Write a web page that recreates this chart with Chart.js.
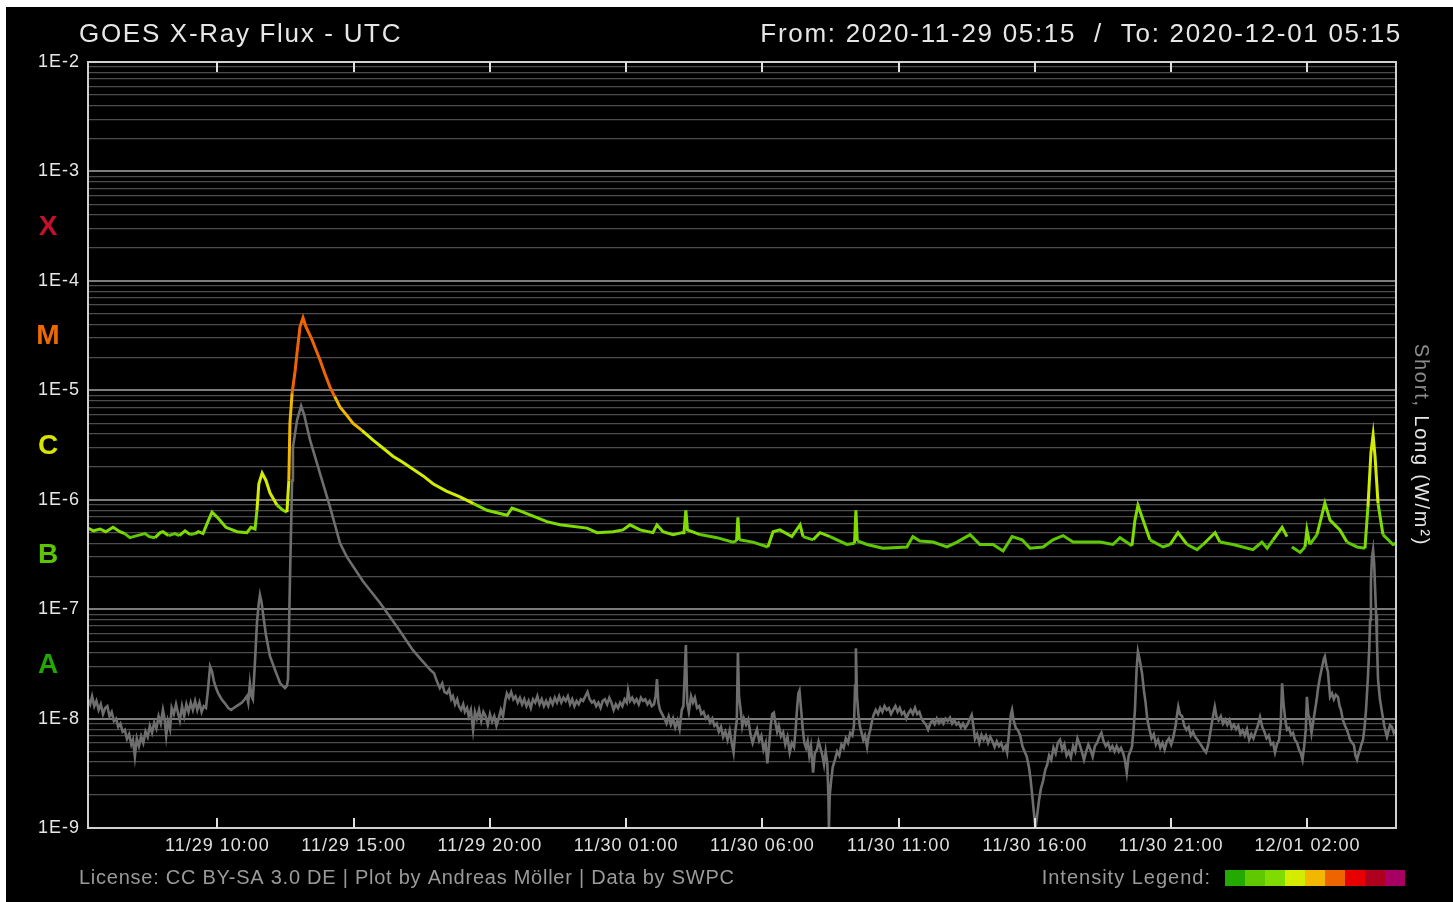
<!DOCTYPE html>
<html>
<head>
<meta charset="utf-8">
<title>GOES X-Ray Flux</title>
<script src="https://cdn.jsdelivr.net/npm/chart.js@4.4.1/dist/chart.umd.min.js"></script>
<style>
  html, body { margin: 0; padding: 0; background: #fff; }
  #wrap { position: absolute; left: 6px; top: 7px; width: 1447px; height: 895px; background: #000; }
  canvas { display: block; }
</style>
</head>
<body>
<div id="wrap"><canvas id="xray" width="1447" height="895"></canvas></div>
<script>
// readings: [hours since 2020-11-29 00:00 UTC, flux in W/m²]
const longReadings = [
  [5.25, 5.5e-7], [5.45, 5.2e-7], [5.69, 5.4e-7], [5.90, 5.1e-7], [6.17, 5.6e-7], [6.42, 5.1e-7], [6.60, 4.9e-7],
  [6.79, 4.5e-7], [7.05, 4.7e-7], [7.34, 4.9e-7], [7.50, 4.6e-7], [7.71, 4.5e-7], [7.90, 5.0e-7], [8.00, 5.1e-7],
  [8.20, 4.7e-7], [8.44, 4.9e-7], [8.60, 4.7e-7], [8.81, 5.2e-7], [9.00, 4.8e-7], [9.18, 4.9e-7], [9.30, 5.1e-7],
  [9.47, 4.9e-7], [9.65, 6.3e-7], [9.80, 7.7e-7],
  [10.02, 6.8e-7], [10.31, 5.6e-7], [10.72, 5.1e-7], [11.08, 5.0e-7], [11.23, 5.6e-7], [11.38, 5.4e-7], [11.45, 8.0e-7],
  [11.52, 1.4e-6], [11.64, 1.75e-6], [11.78, 1.5e-6], [11.93, 1.15e-6], [12.19, 8.9e-7], [12.41, 8.0e-7], [12.55, 7.7e-7],
  [12.62, 1.5e-6], [12.66, 5.0e-6], [12.74, 9.4e-6], [12.85, 1.5e-5], [12.92, 2.2e-5], [13.03, 3.8e-5], [13.14, 4.6e-5],
  [13.25, 3.8e-5], [13.47, 2.9e-5], [13.60, 2.4e-5], [13.76, 1.9e-5], [13.95, 1.4e-5], [14.13, 1.07e-5], [14.30, 8.8e-6],
  [14.50, 7.0e-6], [14.75, 5.9e-6], [14.97, 5.0e-6], [15.30, 4.3e-6], [15.71, 3.5e-6], [16.05, 3.0e-6], [16.44, 2.5e-6],
  [16.80, 2.2e-6], [17.18, 1.9e-6], [17.55, 1.65e-6], [17.91, 1.4e-6], [18.40, 1.2e-6], [18.90, 1.06e-6], [19.40, 9.2e-7],
  [19.89, 8.0e-7], [20.63, 7.2e-7], [20.81, 8.4e-7],
  [21.10, 7.9e-7], [22.09, 6.3e-7], [22.57, 5.9e-7], [23.56, 5.5e-7], [23.93, 5.0e-7], [24.52, 5.1e-7], [24.88, 5.3e-7],
  [25.14, 5.9e-7], [25.51, 5.3e-7], [25.98, 5.0e-7], [26.13, 5.9e-7], [26.35, 5.1e-7], [26.72, 4.8e-7], [27.05, 5.0e-7],
  [27.12, 5.0e-7], [27.19, 8.0e-7], [27.25, 5.3e-7], [27.71, 4.8e-7], [28.33, 4.5e-7], [28.92, 4.1e-7], [29.05, 4.2e-7],
  [29.10, 6.9e-7], [29.15, 4.3e-7], [29.65, 4.1e-7], [30.20, 3.7e-7], [30.39, 5.1e-7], [30.64, 5.3e-7], [31.08, 4.6e-7],
  [31.38, 5.9e-7], [31.49, 4.6e-7], [31.86, 4.3e-7], [32.11, 5.0e-7], [32.48, 4.6e-7], [33.10, 3.9e-7], [33.38, 4.0e-7],
  [33.43, 8.0e-7], [33.48, 4.2e-7], [33.84, 3.9e-7], [34.42, 3.6e-7], [35.30, 3.7e-7], [35.52, 4.6e-7], [35.78, 4.2e-7],
  [36.26, 4.1e-7], [36.77, 3.7e-7], [37.14, 4.1e-7], [37.62, 4.8e-7], [37.98, 3.9e-7], [38.46, 3.9e-7], [38.83, 3.4e-7],
  [39.16, 4.6e-7], [39.53, 4.3e-7], [39.82, 3.6e-7], [40.30, 3.7e-7], [40.66, 4.3e-7], [41.03, 4.7e-7], [41.40, 4.1e-7],
  [41.91, 4.1e-7], [42.39, 4.1e-7], [42.86, 3.9e-7], [43.12, 4.5e-7], [43.56, 3.8e-7], [43.67, 6.5e-7], [43.78, 8.9e-7],
  [43.97, 6.5e-7], [44.22, 4.3e-7], [44.70, 3.7e-7], [44.96, 3.9e-7], [45.25, 5.0e-7], [45.58, 3.9e-7], [45.95, 3.5e-7],
  [46.17, 3.9e-7], [46.61, 5.0e-7], [46.79, 4.1e-7], [47.27, 3.9e-7], [48.00, 3.5e-7], [48.33, 4.1e-7], [48.52, 3.6e-7],
  [48.74, 4.3e-7], [49.07, 5.6e-7], [49.25, 4.6e-7], [49.34, null], [49.43, 3.7e-7], [49.73, 3.3e-7], [49.91, 3.7e-7],
  [49.98, 5.3e-7], [50.09, 3.9e-7], [50.35, 4.8e-7], [50.64, 9.3e-7], [50.83, 6.5e-7], [51.19, 5.3e-7], [51.45, 4.1e-7],
  [51.82, 3.7e-7], [52.11, 3.6e-7], [52.22, 8.6e-7], [52.33, 2.7e-6], [52.41, 3.9e-6], [52.48, 2.5e-6], [52.59, 9.3e-7],
  [52.77, 4.8e-7], [53.14, 3.9e-7], [53.25, 4.0e-7]
];

const shortReadings = [
  [5.25, 1.5e-8], [5.33, 1.35e-8], [5.40, 1.6e-8], [5.48, 1.3e-8], [5.56, 1.45e-8], [5.64, 1.2e-8], [5.72, 1.35e-8],
  [5.80, 1.1e-8], [5.88, 1.25e-8], [5.96, 1.3e-8], [6.04, 1.05e-8], [6.12, 1.15e-8], [6.20, 9.5e-9], [6.28, 1.0e-8],
  [6.36, 8.4e-9], [6.44, 9.0e-9], [6.52, 7.6e-9], [6.60, 7.9e-9], [6.68, 6.5e-9], [6.76, 7.2e-9], [6.84, 5.8e-9],
  [6.90, 6.4e-9], [6.97, 4.5e-9], [7.04, 6.6e-9], [7.12, 5.6e-9], [7.20, 6.9e-9], [7.28, 6.0e-9], [7.36, 7.6e-9],
  [7.44, 6.8e-9], [7.52, 8.6e-9], [7.60, 7.4e-9], [7.68, 9.2e-9], [7.76, 8.1e-9], [7.84, 1.05e-8], [7.92, 9.0e-9],
  [8.00, 1.2e-8], [8.06, 1.0e-8], [8.12, 7.0e-9], [8.18, 9.5e-9], [8.26, 8.0e-9], [8.32, 1.25e-8], [8.40, 1.1e-8],
  [8.48, 1.35e-8], [8.56, 1.1e-8], [8.62, 9.6e-9], [8.70, 1.3e-8], [8.78, 1.05e-8], [8.86, 1.35e-8], [8.94, 1.15e-8],
  [9.02, 1.4e-8], [9.10, 1.2e-8], [9.18, 1.45e-8], [9.26, 1.2e-8], [9.34, 1.4e-8], [9.42, 1.15e-8], [9.50, 1.3e-8],
  [9.58, 1.25e-8], [9.65, 1.8e-8], [9.73, 3.0e-8], [9.80, 2.7e-8], [9.87, 2.2e-8], [9.95, 1.9e-8], [10.03, 1.7e-8],
  [10.12, 1.55e-8], [10.20, 1.45e-8], [10.30, 1.35e-8], [10.40, 1.25e-8], [10.50, 1.2e-8], [10.60, 1.25e-8],
  [10.70, 1.3e-8], [10.80, 1.35e-8], [10.90, 1.4e-8], [11.00, 1.5e-8], [11.08, 1.6e-8], [11.13, 1.4e-8], [11.19, 2.1e-8],
  [11.25, 1.6e-8], [11.30, 1.5e-8], [11.38, 3.4e-8], [11.45, 7.5e-8], [11.52, 1.15e-7], [11.56, 1.35e-7], [11.62, 1.15e-7],
  [11.67, 9.2e-8], [11.78, 5.8e-8], [11.93, 3.7e-8], [12.11, 2.8e-8], [12.30, 2.1e-8], [12.48, 1.9e-8], [12.55, 2.0e-8],
  [12.59, 2.3e-8], [12.66, 1.8e-7], [12.74, 1.5e-6], [12.77, 3.0e-6], [12.92, 5.3e-6], [13.07, 7.2e-6], [13.18, 6.0e-6],
  [13.40, 3.5e-6], [13.76, 1.75e-6], [14.13, 8.6e-7], [14.50, 4.0e-7], [14.75, 3.0e-7], [15.34, 1.8e-7], [15.97, 1.14e-7],
  [16.59, 6.9e-8], [17.18, 4.2e-8], [17.50, 3.4e-8], [17.80, 2.8e-8], [17.95, 2.6e-8], [18.05, 2.2e-8], [18.16, 1.9e-8],
  [18.25, 2.1e-8], [18.33, 1.75e-8], [18.42, 1.7e-8], [18.50, 1.85e-8], [18.58, 1.5e-8], [18.64, 1.6e-8], [18.72, 1.35e-8],
  [18.80, 1.5e-8], [18.86, 1.3e-8], [18.94, 1.2e-8], [19.02, 1.35e-8], [19.08, 1.15e-8], [19.16, 1.25e-8], [19.22, 1.05e-8],
  [19.30, 1.2e-8], [19.38, 7.9e-9], [19.45, 1.15e-8], [19.52, 1.0e-8], [19.60, 1.2e-8], [19.68, 9.5e-9], [19.76, 1.15e-8],
  [19.84, 1.05e-8], [19.92, 8.8e-9], [20.00, 1.1e-8], [20.08, 9.4e-9], [20.16, 1.05e-8], [20.24, 8.6e-9], [20.32, 1.0e-8],
  [20.40, 1.2e-8], [20.48, 1.05e-8], [20.56, 1.45e-8], [20.62, 1.7e-8], [20.70, 1.55e-8], [20.78, 1.75e-8], [20.86, 1.5e-8],
  [20.94, 1.6e-8], [21.02, 1.4e-8], [21.10, 1.55e-8], [21.18, 1.35e-8], [21.26, 1.5e-8], [21.34, 1.3e-8], [21.42, 1.45e-8],
  [21.50, 1.25e-8], [21.58, 1.5e-8], [21.66, 1.4e-8], [21.74, 1.6e-8], [21.82, 1.35e-8], [21.90, 1.5e-8], [21.98, 1.3e-8],
  [22.06, 1.45e-8], [22.14, 1.3e-8], [22.22, 1.5e-8], [22.30, 1.35e-8], [22.38, 1.55e-8], [22.46, 1.4e-8], [22.54, 1.6e-8],
  [22.62, 1.4e-8], [22.70, 1.55e-8], [22.78, 1.45e-8], [22.86, 1.6e-8], [22.94, 1.35e-8], [23.02, 1.5e-8], [23.10, 1.3e-8],
  [23.18, 1.45e-8], [23.26, 1.35e-8], [23.34, 1.5e-8], [23.42, 1.45e-8], [23.50, 1.6e-8], [23.58, 1.75e-8], [23.66, 1.5e-8],
  [23.74, 1.4e-8], [23.82, 1.45e-8], [23.90, 1.3e-8], [23.98, 1.4e-8], [24.06, 1.25e-8], [24.14, 1.45e-8], [24.22, 1.5e-8],
  [24.30, 1.35e-8], [24.38, 1.55e-8], [24.46, 1.4e-8], [24.54, 1.2e-8], [24.62, 1.35e-8], [24.70, 1.25e-8], [24.78, 1.4e-8],
  [24.86, 1.3e-8], [24.94, 1.5e-8], [25.02, 1.4e-8], [25.07, 1.8e-8], [25.14, 1.45e-8], [25.22, 1.55e-8], [25.30, 1.4e-8],
  [25.38, 1.5e-8], [25.46, 1.35e-8], [25.54, 1.55e-8], [25.62, 1.45e-8], [25.70, 1.5e-8], [25.78, 1.35e-8], [25.86, 1.45e-8],
  [25.94, 1.3e-8], [26.02, 1.35e-8], [26.08, 1.6e-8], [26.13, 2.3e-8], [26.18, 1.4e-8], [26.24, 1.2e-8], [26.32, 1.1e-8],
  [26.40, 1.0e-8], [26.48, 9.0e-9], [26.56, 1.05e-8], [26.64, 8.8e-9], [26.72, 1.0e-8], [26.80, 8.3e-9], [26.88, 9.6e-9],
  [26.96, 8.0e-9], [27.04, 1.2e-8], [27.10, 1.3e-8], [27.19, 4.7e-8], [27.24, 1.4e-8], [27.30, 1.15e-8], [27.38, 1.6e-8],
  [27.45, 1.4e-8], [27.52, 1.55e-8], [27.60, 1.25e-8], [27.68, 1.3e-8], [27.76, 1.1e-8], [27.84, 1.15e-8], [27.92, 1.0e-8],
  [28.00, 1.05e-8], [28.08, 9.2e-9], [28.16, 1.0e-8], [28.24, 8.6e-9], [28.32, 9.0e-9], [28.40, 7.6e-9], [28.48, 8.4e-9],
  [28.56, 6.8e-9], [28.64, 7.6e-9], [28.72, 6.4e-9], [28.80, 7.8e-9], [28.88, 5.9e-9], [28.94, 4.9e-9], [29.00, 7.5e-9],
  [29.06, 9.7e-9], [29.10, 4.0e-8], [29.14, 1.6e-8], [29.20, 1.2e-8], [29.26, 8.5e-9], [29.32, 1.0e-8], [29.40, 8.8e-9],
  [29.48, 9.8e-9], [29.56, 7.2e-9], [29.64, 6.0e-9], [29.72, 7.0e-9], [29.80, 8.0e-9], [29.88, 6.3e-9], [29.96, 7.0e-9],
  [30.04, 5.2e-9], [30.12, 6.0e-9], [30.18, 3.9e-9], [30.24, 5.5e-9], [30.30, 8.5e-9], [30.36, 1.1e-8], [30.42, 1.13e-8],
  [30.48, 9.0e-9], [30.54, 7.6e-9], [30.60, 8.6e-9], [30.68, 6.9e-9], [30.76, 7.5e-9], [30.84, 5.8e-9], [30.92, 6.8e-9],
  [31.00, 4.9e-9], [31.08, 6.0e-9], [31.16, 5.5e-9], [31.22, 8.0e-9], [31.28, 1.33e-8], [31.32, 1.7e-8], [31.36, 1.8e-8],
  [31.42, 1.2e-8], [31.48, 8.0e-9], [31.54, 6.0e-9], [31.60, 5.4e-9], [31.66, 6.2e-9], [31.72, 4.6e-9], [31.78, 5.6e-9],
  [31.86, 3.2e-9], [31.92, 4.8e-9], [32.00, 5.2e-9], [32.06, 6.2e-9], [32.12, 5.5e-9], [32.20, 4.6e-9], [32.26, 3.8e-9],
  [32.32, 5.0e-9], [32.38, 3.9e-9], [32.42, 2.0e-9], [32.44, 1.0e-9], [32.47, 2.0e-9], [32.52, 2.7e-9], [32.58, 3.6e-9],
  [32.66, 4.2e-9], [32.74, 5.0e-9], [32.82, 4.6e-9], [32.90, 5.8e-9], [32.98, 5.4e-9], [33.06, 6.6e-9], [33.14, 6.0e-9],
  [33.22, 7.4e-9], [33.30, 7.0e-9], [33.36, 8.7e-9], [33.40, 2.0e-8], [33.43, 4.4e-8], [33.47, 1.6e-8], [33.52, 1.1e-8],
  [33.58, 8.4e-9], [33.64, 7.4e-9], [33.70, 6.4e-9], [33.76, 7.0e-9], [33.84, 5.5e-9], [33.90, 7.0e-9], [33.96, 7.9e-9],
  [34.02, 9.5e-9], [34.08, 1.08e-8], [34.16, 1.2e-8], [34.24, 1.1e-8], [34.32, 1.25e-8], [34.40, 1.15e-8], [34.48, 1.3e-8],
  [34.56, 1.2e-8], [34.64, 1.25e-8], [34.72, 1.1e-8], [34.80, 1.2e-8], [34.88, 1.3e-8], [34.96, 1.15e-8], [35.04, 1.25e-8],
  [35.12, 1.1e-8], [35.20, 1.15e-8], [35.28, 1.0e-8], [35.36, 1.12e-8], [35.44, 1.2e-8], [35.52, 1.1e-8], [35.60, 1.25e-8],
  [35.68, 1.1e-8], [35.76, 1.15e-8], [35.84, 1.0e-8], [35.92, 9.3e-9], [36.00, 8.8e-9], [36.08, 7.9e-9], [36.16, 9.0e-9],
  [36.24, 9.7e-9], [36.32, 8.9e-9], [36.40, 1.0e-8], [36.48, 9.1e-9], [36.56, 9.8e-9], [36.64, 9.0e-9], [36.72, 1.0e-8],
  [36.80, 9.5e-9], [36.88, 1.02e-8], [36.96, 9.0e-9], [37.04, 9.7e-9], [37.12, 8.8e-9], [37.20, 9.2e-9], [37.28, 8.3e-9],
  [37.36, 9.0e-9], [37.44, 8.2e-9], [37.52, 8.8e-9], [37.60, 9.8e-9], [37.68, 1.08e-8], [37.74, 8.6e-9], [37.80, 6.5e-9],
  [37.88, 7.2e-9], [37.96, 6.0e-9], [38.04, 7.1e-9], [38.12, 6.4e-9], [38.20, 7.0e-9], [38.28, 6.0e-9], [38.36, 6.8e-9],
  [38.44, 6.2e-9], [38.52, 5.5e-9], [38.60, 6.2e-9], [38.68, 5.6e-9], [38.76, 6.0e-9], [38.84, 5.2e-9], [38.92, 5.6e-9],
  [38.98, 4.9e-9], [39.06, 8.0e-9], [39.12, 1.1e-8], [39.16, 1.2e-8], [39.22, 9.6e-9], [39.30, 8.2e-9], [39.38, 7.8e-9],
  [39.46, 7.0e-9], [39.54, 5.6e-9], [39.62, 5.0e-9], [39.70, 4.5e-9], [39.78, 3.6e-9], [39.84, 2.8e-9], [39.90, 2.0e-9],
  [39.96, 1.4e-9], [40.02, 1.0e-9], [40.08, 1.3e-9], [40.15, 1.8e-9], [40.22, 2.3e-9], [40.30, 2.7e-9], [40.38, 3.4e-9],
  [40.45, 3.8e-9], [40.52, 4.6e-9], [40.60, 4.2e-9], [40.68, 5.4e-9], [40.76, 4.8e-9], [40.84, 6.0e-9], [40.92, 6.4e-9],
  [41.00, 5.2e-9], [41.08, 5.8e-9], [41.16, 4.6e-9], [41.24, 5.0e-9], [41.32, 4.4e-9], [41.40, 5.6e-9], [41.48, 5.0e-9],
  [41.56, 6.6e-9], [41.64, 5.8e-9], [41.72, 5.0e-9], [41.80, 4.2e-9], [41.88, 5.0e-9], [41.96, 5.8e-9], [42.04, 5.2e-9],
  [42.12, 4.5e-9], [42.20, 5.6e-9], [42.28, 6.0e-9], [42.36, 6.8e-9], [42.44, 7.4e-9], [42.52, 6.2e-9], [42.60, 5.6e-9],
  [42.68, 6.0e-9], [42.76, 5.2e-9], [42.84, 5.6e-9], [42.92, 5.0e-9], [43.00, 5.6e-9], [43.08, 5.0e-9], [43.16, 5.4e-9],
  [43.24, 4.8e-9], [43.30, 4.2e-9], [43.37, 3.2e-9], [43.44, 4.6e-9], [43.50, 5.0e-9], [43.56, 5.5e-9], [43.62, 8.0e-9],
  [43.67, 1.2e-8], [43.73, 2.8e-8], [43.78, 4.1e-8], [43.85, 3.4e-8], [43.93, 2.6e-8], [44.00, 1.8e-8], [44.06, 1.4e-8],
  [44.12, 1.0e-8], [44.20, 8.0e-9], [44.28, 6.6e-9], [44.36, 7.2e-9], [44.44, 5.8e-9], [44.52, 6.4e-9], [44.60, 5.4e-9],
  [44.68, 6.0e-9], [44.76, 5.2e-9], [44.84, 6.2e-9], [44.92, 6.6e-9], [45.00, 5.8e-9], [45.08, 6.8e-9], [45.16, 8.6e-9],
  [45.22, 1.1e-8], [45.26, 1.28e-8], [45.32, 1.1e-8], [45.40, 1.05e-8], [45.48, 8.6e-9], [45.56, 7.9e-9], [45.64, 8.4e-9],
  [45.72, 7.0e-9], [45.80, 7.6e-9], [45.88, 6.8e-9], [45.96, 6.4e-9], [46.04, 6.0e-9], [46.12, 5.6e-9], [46.20, 5.2e-9],
  [46.28, 4.9e-9], [46.36, 5.8e-9], [46.44, 7.6e-9], [46.52, 1.0e-8], [46.60, 1.28e-8], [46.66, 1.05e-8], [46.74, 9.6e-9],
  [46.82, 1.05e-8], [46.90, 9.0e-9], [46.98, 9.8e-9], [47.06, 8.8e-9], [47.14, 9.7e-9], [47.22, 8.2e-9], [47.30, 8.8e-9],
  [47.38, 8.0e-9], [47.46, 8.6e-9], [47.54, 7.2e-9], [47.62, 7.8e-9], [47.70, 7.0e-9], [47.78, 8.0e-9], [47.86, 6.4e-9],
  [47.94, 7.2e-9], [48.02, 6.6e-9], [48.10, 7.6e-9], [48.18, 8.6e-9], [48.26, 1.03e-8], [48.34, 8.4e-9], [48.42, 7.6e-9],
  [48.50, 6.6e-9], [48.58, 7.0e-9], [48.66, 5.8e-9], [48.74, 6.0e-9], [48.81, 4.9e-9], [48.88, 5.8e-9], [48.96, 6.4e-9],
  [49.02, 9.0e-9], [49.07, 2.1e-8], [49.12, 1.4e-8], [49.18, 1.0e-8], [49.25, 7.9e-9], [49.32, 8.2e-9], [49.40, 7.1e-9],
  [49.47, 7.4e-9], [49.54, 6.4e-9], [49.62, 6.0e-9], [49.69, 5.2e-9], [49.76, 4.8e-9], [49.82, 4.2e-9], [49.88, 5.6e-9],
  [49.94, 8.0e-9], [49.98, 1.58e-8], [50.03, 1.1e-8], [50.09, 9.7e-9], [50.15, 7.4e-9], [50.22, 9.6e-9], [50.28, 1.2e-8],
  [50.34, 1.5e-8], [50.39, 1.9e-8], [50.46, 2.4e-8], [50.53, 2.9e-8], [50.60, 3.5e-8], [50.64, 3.7e-8], [50.70, 3.0e-8],
  [50.75, 2.7e-8], [50.83, 1.58e-8], [50.90, 1.7e-8], [50.97, 1.5e-8], [51.04, 1.65e-8], [51.12, 1.58e-8], [51.18, 1.3e-8],
  [51.23, 1.2e-8], [51.30, 9.7e-9], [51.38, 8.6e-9], [51.45, 7.9e-9], [51.52, 7.0e-9], [51.56, 6.4e-9], [51.64, 6.0e-9],
  [51.71, 5.7e-9], [51.76, 4.6e-9], [51.82, 4.2e-9], [51.88, 4.8e-9], [51.93, 5.2e-9], [51.98, 5.8e-9], [52.04, 6.4e-9],
  [52.10, 8.5e-9], [52.15, 1.2e-8], [52.22, 2.4e-8], [52.27, 4.5e-8], [52.30, 8.0e-8], [52.33, 1.8e-7], [52.37, 3.0e-7],
  [52.41, 3.5e-7], [52.45, 2.6e-7], [52.48, 1.6e-7], [52.52, 9.0e-8], [52.55, 5.2e-8], [52.59, 2.3e-8], [52.66, 1.5e-8],
  [52.74, 1.13e-8], [52.82, 8.6e-9], [52.88, 7.4e-9], [52.92, 6.8e-9], [52.98, 7.8e-9], [53.03, 8.7e-9], [53.10, 8.4e-9],
  [53.17, 7.4e-9], [53.25, 7.9e-9]
];

const xTickHours = [10, 15, 20, 25, 30, 35, 40, 45, 50];
const classLetters = ['X', 'M', 'C', 'B', 'A'];
const classColors = ['#c4102c', '#ee6a00', '#d8e400', '#5cc400', '#22a800'];

// intensity legend: colour used above each lower limit
const intensityLimits = [0, 1e-7, 5e-7, 1e-6, 5e-6, 1e-5, 5e-5, 1e-4, 5e-4];
const intensityColors = ['#22aa00', '#5fc800', '#80dc00', '#d4ec00', '#f2b800', '#ee6400', '#e80000', '#b00020', '#a80062'];

const yTickValues = [];
for (let e = -9; e <= -3; e++) {
    for (let k = 1; k <= 9; k++) yTickValues.push(parseFloat(k + 'e' + e));
}
yTickValues.push(1e-2);

const FONT = "'Liberation Sans', Arial, sans-serif";

function isDecade(v) {
    const l = Math.log10(v);
    return Math.abs(l - Math.round(l)) < 1e-9;
}

function fluxColor(v) {
    let c = intensityColors[0];
    intensityLimits.forEach((lim, i) => { if (v >= lim) c = intensityColors[i]; });
    return c;
}

function hourLabel(h) {
    const d = new Date(Date.UTC(2020, 10, 29) + h * 3600000);
    const p = n => String(n).padStart(2, '0');
    return p(d.getUTCMonth() + 1) + '/' + p(d.getUTCDate()) + ' ' + p(d.getUTCHours()) + ':' + p(d.getUTCMinutes());
}

const longPoints = longReadings.map(r => ({ x: r[0], y: r[1] }));
const shortPoints = shortReadings.map(r => ({ x: r[0], y: r[1] }));

// titles, class letters, frame, inner ticks, footer
const goesDecor = {
    id: 'goesDecor',
    beforeDraw(chart) {
        chart.ctx.letterSpacing = '1px';
    },
    afterDraw(chart) {
        const ctx = chart.ctx;
        const area = chart.chartArea;
        const xs = chart.scales.x;
        const ys = chart.scales.y;
        ctx.save();

        // frame
        ctx.strokeStyle = '#d0d0d0';
        ctx.lineWidth = 2;
        ctx.strokeRect(area.left, area.top, area.right - area.left, area.bottom - area.top);

        // inner ticks top and bottom
        ctx.strokeStyle = '#e0e0e0';
        xTickHours.forEach(h => {
            const px = Math.round(xs.getPixelForValue(h));
            ctx.beginPath();
            ctx.moveTo(px, area.bottom);
            ctx.lineTo(px, area.bottom - 10);
            ctx.moveTo(px, area.top);
            ctx.lineTo(px, area.top + 10);
            ctx.stroke();
        });

        // class letters between decades
        ctx.letterSpacing = '0px';
        ctx.font = 'bold 28px ' + FONT;
        ctx.textAlign = 'center';
        ctx.textBaseline = 'middle';
        classLetters.forEach((letter, i) => {
            const mid = Math.sqrt(Math.pow(10, -3 - i) * Math.pow(10, -4 - i));
            ctx.fillStyle = classColors[i];
            ctx.fillText(letter, 42, ys.getPixelForValue(mid) + 1);
        });

        // header
        ctx.fillStyle = '#e6e6e6';
        ctx.font = '26px ' + FONT;
        ctx.letterSpacing = '1.7px';
        ctx.textAlign = 'left';
        ctx.fillText('GOES X-Ray Flux - UTC', 73, 28);
        ctx.textAlign = 'right';
        ctx.fillText('From: 2020-11-29 05:15  /  To: 2020-12-01 05:15', area.right + 6, 28);

        // right axis title, rotated clockwise
        ctx.font = '20px ' + FONT;
        ctx.letterSpacing = '1.8px';
        ctx.translate(area.right + 25, (area.top + area.bottom) / 2);
        ctx.rotate(Math.PI / 2);
        const partA = 'Short, ';
        const partB = 'Long (W/m²)';
        const wA = ctx.measureText(partA).width;
        const wB = ctx.measureText(partB).width;
        ctx.textAlign = 'left';
        ctx.fillStyle = '#8c8c8c';
        ctx.fillText(partA, -(wA + wB) / 2, 0);
        ctx.fillStyle = '#e6e6e6';
        ctx.fillText(partB, -(wA + wB) / 2 + wA, 0);
        ctx.setTransform(1, 0, 0, 1, 0, 0);

        // footer
        ctx.font = '20px ' + FONT;
        ctx.letterSpacing = '0.75px';
        ctx.fillStyle = '#9a9a9a';
        ctx.textAlign = 'left';
        ctx.fillText('License: CC BY-SA 3.0 DE | Plot by Andreas Möller | Data by SWPC', 73, 871);
        ctx.textAlign = 'right';
        ctx.letterSpacing = '1px';
        ctx.fillText('Intensity Legend:', 1205, 871);
        intensityColors.forEach((c, i) => {
            ctx.fillStyle = c;
            ctx.fillRect(1219 + i * 20, 863, 20, 16);
        });

        ctx.restore();
    }
};

const chart = new Chart(document.getElementById('xray'), {
    type: 'line',
    data: {
        datasets: [{
            label: 'Long',
            data: longPoints,
            borderColor: '#80dc00',
            borderWidth: 3,
            pointRadius: 0,
            tension: 0,
            spanGaps: false,
            segment: {
                borderColor: c => fluxColor(Math.max(c.p0.parsed.y, c.p1.parsed.y))
            }
        }, {
            label: 'Short',
            data: shortPoints,
            borderColor: '#6e6e6e',
            borderWidth: 2.6,
            pointRadius: 0,
            tension: 0
        }]
    },
    options: {
        responsive: false,
        animation: false,
        events: [],
        layout: { padding: { top: 55, right: 57, left: 0, bottom: 0 } },
        plugins: {
            legend: { display: false },
            tooltip: { enabled: false }
        },
        scales: {
            x: {
                type: 'linear',
                min: 5.25,
                max: 53.25,
                afterBuildTicks: s => { s.ticks = xTickHours.map(h => ({ value: h })); },
                afterFit: s => { s.height = 74; },
                grid: { display: false, drawTicks: false },
                border: { display: false },
                ticks: {
                    autoSkip: false,
                    maxRotation: 0,
                    padding: 7,
                    color: '#e0e0e0',
                    font: { family: FONT, size: 18 },
                    callback: v => hourLabel(v)
                }
            },
            y: {
                type: 'logarithmic',
                min: 1e-9,
                max: 1e-2,
                afterBuildTicks: s => { s.ticks = yTickValues.map(v => ({ value: v })); },
                afterFit: s => { s.width = 82; },
                grid: {
                    drawTicks: false,
                    color: c => isDecade(c.tick.value) ? '#7c7c7c' : '#4c4c4c',
                    lineWidth: c => isDecade(c.tick.value) ? 2 : 1.3
                },
                border: { display: false },
                ticks: {
                    autoSkip: false,
                    padding: 8,
                    color: '#e6e6e6',
                    font: { family: FONT, size: 18 },
                    callback: v => isDecade(v) ? '1E' + Math.round(Math.log10(v)) : ''
                }
            }
        }
    },
    plugins: [goesDecor]
});
</script>
</body>
</html>
